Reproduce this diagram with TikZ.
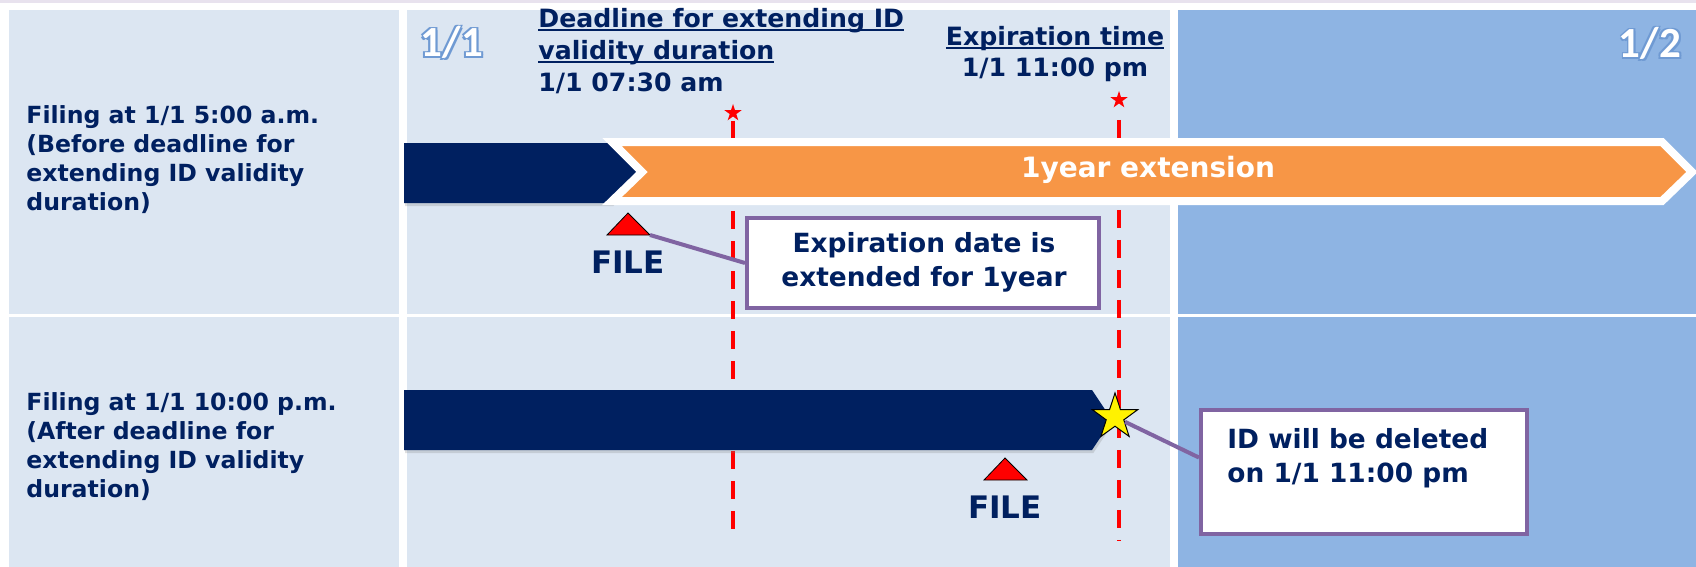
\documentclass[tikz,border=0pt]{standalone}
\usepackage{fontspec}
\setmainfont{DejaVu Sans}
\newfontfamily\califont{Carlito}
\usetikzlibrary{shapes.geometric,shadows}

\definecolor{navy}{HTML}{002060}
\definecolor{cellblue}{HTML}{DCE6F2}
\definecolor{dayblue}{HTML}{8EB4E3}
\definecolor{extorange}{HTML}{F79646}
\definecolor{calloutpurple}{HTML}{8064A2}
\definecolor{glowblue}{HTML}{6F9AD3}
\definecolor{topline}{HTML}{E8E2EE}

\newcommand{\undertext}[1]{\setbox0\hbox{#1}\rlap{\rule[-1.8pt]{\wd0}{1pt}}\box0}

\tikzset{
  cell/.style={fill=cellblue},
  daycell/.style={fill=dayblue},
  rowlabel/.style={anchor=base west, align=left, text=navy, inner sep=0pt,
    font=\bfseries\fontsize{11.8}{14.5}\selectfont},
  timelabel/.style={text=navy, inner sep=0pt, font=\bfseries\fontsize{12.6}{16}\selectfont},
  daynum/.style={anchor=base, inner sep=0pt, font=\califont\bfseries\fontsize{21.5}{24}\selectfont},
  deadline/.style={draw=red, line width=1.8pt, dash pattern=on 9pt off 6pt},
  redstar/.style={star, star points=5, star point ratio=2.6, fill=red, minimum size=9pt, inner sep=0pt},
  delstar/.style={star, star points=5, star point ratio=2.6, fill=yellow, draw=black,
    line width=0.5pt, minimum size=24pt, inner sep=0pt},
  barshadow/.style={drop shadow={opacity=0.25, shadow xshift=0.6pt, shadow yshift=-1.6pt}},
  filetri/.style={fill=red, draw=black, line width=0.4pt},
  filetext/.style={anchor=base, text=navy, inner sep=0pt, font=\bfseries\fontsize{15.5}{18}\selectfont},
  callout/.style={draw=calloutpurple, line width=2pt, fill=white},
  callouttext/.style={text=navy, inner sep=0pt, font=\bfseries\fontsize{13.2}{17}\selectfont},
  callline/.style={draw=calloutpurple, line width=2pt}
}

\begin{document}
\begin{tikzpicture}[x=0.5pt,y=-0.5pt]
\useasboundingbox (0,0) rectangle (1696,567);
\fill[white] (0,0) rectangle (1696,567);
\fill[topline] (0,0) rectangle (1696,3);

\fill[cell] (9,10) rectangle (399,314);
\fill[cell] (9,317) rectangle (399,567);
\fill[cell] (407,10) rectangle (1170,314);
\fill[cell] (407,317) rectangle (1170,567);
\fill[daycell] (1178,10) rectangle (1696,314);
\fill[daycell] (1178,317) rectangle (1696,567);

\foreach \a in {45,135,225,315}
  \node[daynum, text=glowblue, shift={(\a:1.4pt)}] (glowa\a) at (452,57) {1/1};
\node[daynum, text=white] (dayone) at (452,57) {1/1};
\foreach \a in {45,135,225,315}
  \node[daynum, text=glowblue, shift={(\a:1.4pt)}] (glowb\a) at (1650,58) {1/2};
\node[daynum, text=white] (daytwo) at (1650,58) {1/2};

\node[timelabel, anchor=base west, align=left] (deadline) at (538,91)
  {\undertext{Deadline for extending ID}\\\undertext{validity duration}\\1/1 07:30 am};
\node[timelabel, anchor=base, align=center] (expire) at (1055,77)
  {\undertext{Expiration time}\\1/1 11:00 pm};

\coordinate (bottomline) at (0,540);
\node[redstar] (dstar) at (733,113) {};
\node[redstar] (estar) at (1119,100) {};
\draw[deadline] ([yshift=-2pt]dstar.south) -- (dstar.south |- bottomline);
\draw[deadline] ([yshift=-8pt]estar.south) -- (estar.south |- bottomline);

\node[rowlabel] (early) at (26,210)
  {Filing at 1/1 5:00 a.m.\\(Before deadline for\\extending ID validity\\duration)};
\node[rowlabel] (late) at (26,497)
  {Filing at 1/1 10:00 p.m.\\(After deadline for\\extending ID validity\\duration)};

\fill[navy, barshadow] (404,143) -- (612,143) -- (642,172) -- (612,203) -- (404,203) -- cycle;
\draw[white, line width=4pt, fill=extorange, barshadow]
  (612,142) -- (1662,142) -- (1692,172) -- (1662,201) -- (612,201) -- (642,172) -- cycle;
\node[text=white, font=\bfseries\fontsize{14}{17}\selectfont] (ext) at (1148,170) {1year extension};

\fill[navy, barshadow] (404,390) -- (1092,390) -- (1112,420) -- (1092,450) -- (404,450) -- cycle;

\draw[filetri] (607,235) -- (628,213) -- (650,235) -- cycle;
\coordinate (tri1) at (650,235);
\node[filetext] (file1) at (628,273) {FILE};
\draw[filetri] (984,480) -- (1005,458) -- (1027,480) -- cycle;
\node[filetext] (file2) at (1005,518) {FILE};

\node[callout, minimum width=176pt, minimum height=45pt] (extbox) at (923,263) {};
\node[callouttext, align=center] (exttext) at (924,262) {Expiration date is\\extended for 1year};
\draw[callline] (tri1) -- (extbox.west);

\node[callout, minimum width=163pt, minimum height=62pt] (delbox) at (1364,472) {};
\node[callouttext, anchor=base west, align=left] (deltext) at (1227,482) {ID will be deleted\\on 1/1 11:00 pm};
\node[delstar] (del) at (1115,417) {};
\draw[callline] (del) -- (delbox.175);
\end{tikzpicture}
\end{document}
